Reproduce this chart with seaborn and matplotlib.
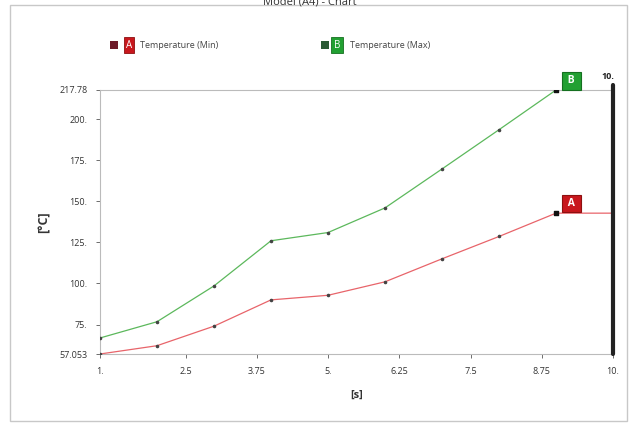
import matplotlib
matplotlib.use("Agg")
import matplotlib.pyplot as plt
import pandas as pd
import seaborn as sns
from matplotlib.patches import Rectangle

# data
time_s = [1, 2, 3, 4, 5, 6, 7, 8, 9, 10]
temp_min = [57.053, 62.1, 74.0, 90.0, 92.8, 101.0, 115.0, 128.6, 142.8, 142.8]
temp_max = [66.8, 76.7, 98.5, 126.0, 131.0, 146.0, 169.7, 193.6, 217.78, 217.78]
x_ticks = [1, 2.5, 3.75, 5, 6.25, 7.5, 8.75, 10]
x_labels = ["1.", "2.5", "3.75", "5.", "6.25", "7.5", "8.75", "10."]
y_ticks = [57.053, 75, 100, 125, 150, 175, 200, 217.78]
y_labels = ["57.053", "75.", "100.", "125.", "150.", "175.", "200.", "217.78"]

df = pd.DataFrame({
    "Time": time_s * 2,
    "Temp": temp_min + temp_max,
    "Series": ["Temperature (Min)"] * len(time_s) + ["Temperature (Max)"] * len(time_s),
})

sns.set_style("white")
plt.rcParams["font.family"] = ["Open Sans", "DejaVu Sans"]

fig = plt.figure(figsize=(6.29, 4.23), dpi=100)
ax = fig.add_axes([100 / 629, 1 - 354 / 423, 513 / 629, 264 / 423])

line_colors = {"Temperature (Min)": "#e8646a", "Temperature (Max)": "#5cb85c"}
sns.lineplot(data=df, x="Time", y="Temp", hue="Series", palette=line_colors,
             linewidth=0.9, legend=False, ax=ax)
# small dark dots at each sample (not at the end of the flat part)
pts = df[df["Time"] < 9]
ax.scatter(pts["Time"], pts["Temp"], s=2.5, color="#444444", zorder=3)

# end markers with A / B tags
ax.scatter([9, 9], [temp_min[8], temp_max[8]], marker="s", s=9, color="#111111", zorder=4)
ax.annotate(" A ", (9, temp_min[8]), xytext=(11, 7), textcoords="offset points",
            ha="center", va="center", fontsize=7.5, color="white", fontweight="bold",
            bbox=dict(boxstyle="square,pad=0.3", fc="#c8171d", ec="#8e1010", lw=0.8))
ax.annotate(" B ", (9, temp_max[8]), xytext=(11, 6.5), textcoords="offset points",
            ha="center", va="center", fontsize=7.5, color="white", fontweight="bold",
            annotation_clip=False,
            bbox=dict(boxstyle="square,pad=0.3", fc="#22a032", ec="#157020", lw=0.8))

# time cursor at 10
ax.axvline(10, color="#222222", lw=3, ymin=0, ymax=1.02, clip_on=False, zorder=5)
ax.text(10.02, 223, "10.", ha="right", va="bottom", fontsize=6.5, fontweight="bold", color="#222222")

ax.set_xlim(1, 10)
ax.set_ylim(57.053, 217.78)
ax.set_xticks(x_ticks)
ax.set_xticklabels(x_labels)
ax.set_yticks(y_ticks)
ax.set_yticklabels(y_labels)
ax.tick_params(axis="both", labelsize=6.5, colors="#555555", length=3, width=0.6,
               direction="out", bottom=True, left=True, pad=6)
for lbl in ax.get_xticklabels() + ax.get_yticklabels():
    lbl.set_color("#333333")

for side in ["left", "bottom", "top"]:
    ax.spines[side].set_color("#bbbbbb")
    ax.spines[side].set_linewidth(0.8)
ax.spines["right"].set_visible(False)

ax.set_xlabel("[s]", fontsize=8, fontweight="bold", color="#333333", labelpad=10)
ax.set_ylabel("[°C]", fontsize=9, fontweight="bold", color="#333333", labelpad=6)

# outer frame and title (cut at the top edge, as in the source)
fig.patches.append(Rectangle((10 / 629, 2 / 423), 617 / 629, 416 / 423,
                             transform=fig.transFigure, fill=False, ec="#c8c8c8", lw=1))
fig.text(310 / 629, 1 - 2 / 423, "Model (A4) - Chart", ha="center", va="center", fontsize=8, color="#333333")

# legend row
fig.patches.append(Rectangle((110 / 629, 1 - 49 / 423), 8 / 629, 8 / 423,
                             transform=fig.transFigure, fc="#6e1a28", ec="none"))
fig.text(129 / 629, 1 - 45 / 423, "A", ha="center", va="center", fontsize=7, color="white",
         bbox=dict(boxstyle="square,pad=0.25", fc="#c8171d", ec="#8e1010", lw=0.6))
fig.text(140 / 629, 1 - 45 / 423, "Temperature (Min)", ha="left", va="center", fontsize=6.5, color="#444444")

fig.patches.append(Rectangle((321 / 629, 1 - 49 / 423), 8 / 629, 8 / 423,
                             transform=fig.transFigure, fc="#2a5a34", ec="none"))
fig.text(337 / 629, 1 - 45 / 423, "B", ha="center", va="center", fontsize=7, color="white",
         bbox=dict(boxstyle="square,pad=0.25", fc="#22a032", ec="#157020", lw=0.6))
fig.text(350 / 629, 1 - 45 / 423, "Temperature (Max)", ha="left", va="center", fontsize=6.5, color="#444444")

fig.savefig("out.png", dpi=100)
